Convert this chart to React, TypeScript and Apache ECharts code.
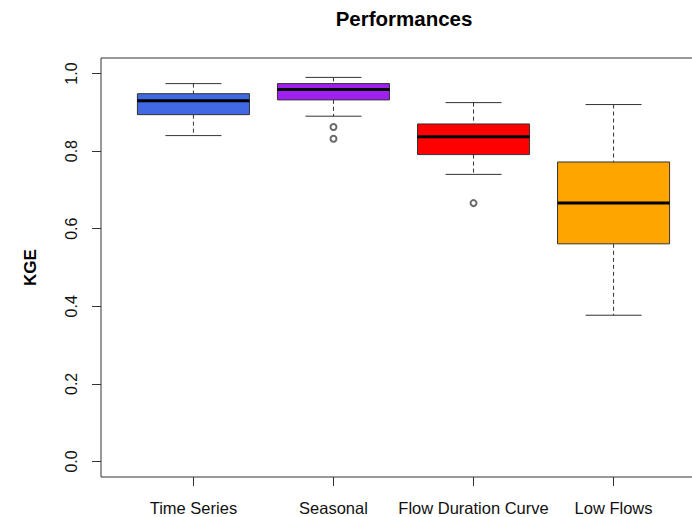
import React, { useEffect, useRef } from "react";
import * as echarts from "echarts";

const categories = ["Time Series", "Seasonal", "Flow Duration Curve", "Low Flows"];
const boxColors = ["#4169E1", "#A020F0", "#FF0000", "#FFA500"];
const lowerWhisker = [0.84, 0.89, 0.74, 0.377];
const lowerQuartile = [0.894, 0.932, 0.791, 0.561];
const medians = [0.93, 0.959, 0.837, 0.666];
const upperQuartile = [0.948, 0.974, 0.87, 0.772];
const upperWhisker = [0.974, 0.99, 0.925, 0.92];
const outlierGroup = [2, 2, 3];
const outlierValues = [0.862, 0.832, 0.666];
const yTicks = [0, 0.2, 0.4, 0.6, 0.8, 1.0];
const xTicks = [1, 2, 3, 4];

export default function App() {
  const ref = useRef<HTMLDivElement>(null);
  useEffect(() => {
    if (!ref.current) return;
    const chart = echarts.init(ref.current, null, { renderer: "svg" });
    const boxData = categories.map((_, i) => [
      i + 1,
      lowerWhisker[i],
      lowerQuartile[i],
      medians[i],
      upperQuartile[i],
      upperWhisker[i],
    ]);
    const outData = outlierValues.map((v, i) => [outlierGroup[i], v]);
    const stroke = "#333";
    const font = "Liberation Sans, Arial, sans-serif";
    chart.setOption({
      animation: false,
      backgroundColor: "#fff",
      title: {
        text: "Performances",
        left: 399,
        top: 3,
        textAlign: "center",
        textStyle: { fontFamily: font, fontSize: 20.5, fontWeight: "bold", color: "#000" },
      },
      grid: {
        left: 101,
        top: 58,
        width: 605,
        height: 419,
        outerBoundsMode: "none",
        containLabel: false,
        show: true,
        borderColor: stroke,
        borderWidth: 1,
        backgroundColor: "transparent",
      },
      xAxis: {
        type: "value",
        min: 0.34,
        max: 4.66,
        axisLine: { show: false, onZero: false },
        splitLine: { show: false },
        axisTick: { show: true, customValues: xTicks, length: 9, lineStyle: { color: stroke } },
        axisLabel: {
          customValues: xTicks,
          formatter: (v: number) => categories[Math.round(v) - 1] ?? "",
          margin: 22,
          fontFamily: font,
          fontSize: 16.5,
          color: "#111",
        },
      },
      yAxis: {
        type: "value",
        min: -0.04,
        max: 1.04,
        name: "KGE",
        nameLocation: "middle",
        nameRotate: 90,
        nameGap: 62,
        nameTextStyle: { fontFamily: font, fontSize: 17, fontWeight: "bold", color: "#000" },
        axisLine: { show: false, onZero: false },
        splitLine: { show: false },
        axisTick: { show: true, customValues: yTicks, length: 9, lineStyle: { color: stroke } },
        axisLabel: {
          customValues: yTicks,
          formatter: (v: number) => v.toFixed(1),
          rotate: 90,
          margin: 22,
          fontFamily: font,
          fontSize: 16,
          color: "#111",
        },
      },
      series: [
        {
          type: "custom",
          data: boxData,
          encode: { x: 0, y: [1, 2, 3, 4, 5] },
          renderItem: (params: any, api: any) => {
            const x = api.value(0);
            const pLo = api.coord([x, api.value(1)]);
            const pQ1 = api.coord([x, api.value(2)]);
            const pMed = api.coord([x, api.value(3)]);
            const pQ3 = api.coord([x, api.value(4)]);
            const pHi = api.coord([x, api.value(5)]);
            const halfW = api.size([0.4, 0])[0];
            const capW = halfW / 2;
            const cx = pLo[0];
            const color = boxColors[params.dataIndex];
            const dash = { stroke, lineWidth: 1, lineDash: [4, 3] };
            const solid = { stroke, lineWidth: 1 };
            return {
              type: "group",
              children: [
                { type: "line", shape: { x1: cx, y1: pHi[1], x2: cx, y2: pQ3[1] }, style: dash },
                { type: "line", shape: { x1: cx, y1: pQ1[1], x2: cx, y2: pLo[1] }, style: dash },
                { type: "line", shape: { x1: cx - capW, y1: pHi[1], x2: cx + capW, y2: pHi[1] }, style: solid },
                { type: "line", shape: { x1: cx - capW, y1: pLo[1], x2: cx + capW, y2: pLo[1] }, style: solid },
                {
                  type: "rect",
                  shape: { x: cx - halfW, y: pQ3[1], width: 2 * halfW, height: pQ1[1] - pQ3[1] },
                  style: { fill: color, stroke, lineWidth: 1 },
                },
                {
                  type: "line",
                  shape: { x1: cx - halfW, y1: pMed[1], x2: cx + halfW, y2: pMed[1] },
                  style: { stroke: "#000", lineWidth: 3 },
                },
              ],
            };
          },
        },
        {
          type: "scatter",
          data: outData,
          symbol: "emptyCircle",
          symbolSize: 6,
          itemStyle: { color: "#444", borderColor: "#444", borderWidth: 1 },
        },
      ],
    });
    return () => chart.dispose();
  }, []);
  return (
    <div
      ref={ref}
      style={{ position: "fixed", left: 0, top: 0, width: 692, height: 517 }}
    />
  );
}
